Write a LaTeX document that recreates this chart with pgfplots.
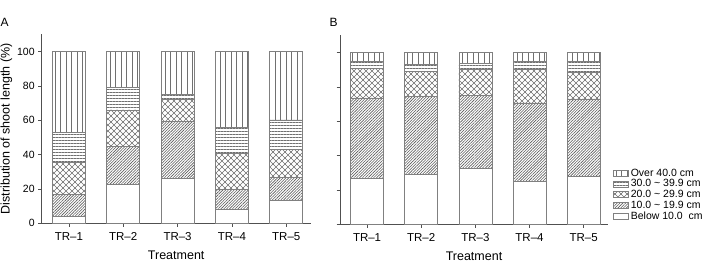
\documentclass[border=0pt]{standalone}
\usepackage{pgfplots}
\pgfplotsset{compat=1.18}
\usepackage{fontspec}
\setmainfont{Liberation Sans}
\usetikzlibrary{patterns,patterns.meta}

\pgfdeclarepatternformonly{xdots}{\pgfpoint{-0.5pt}{-0.5pt}}{\pgfpoint{6.5pt}{6.5pt}}{\pgfpoint{6pt}{6pt}}{
  \pgfsetlinewidth{0.45pt}
  \pgfpathmoveto{\pgfpoint{0pt}{0pt}}\pgfpathlineto{\pgfpoint{6pt}{6pt}}
  \pgfpathmoveto{\pgfpoint{0pt}{6pt}}\pgfpathlineto{\pgfpoint{6pt}{0pt}}
  \pgfusepath{stroke}
  \pgfpathcircle{\pgfpoint{3pt}{3pt}}{0.75pt}
  \pgfusepath{fill}
}

\definecolor{edge}{HTML}{808080}
\definecolor{hatch}{HTML}{707070}
\definecolor{hatchd}{HTML}{5A5A5A}
\definecolor{spine}{HTML}{505050}

\pgfplotstableread{
x below d10 d20 d30 over
1 4.0 13.0 18.5 17.5 47.0
2 22.7 22.1 21.2 13.2 20.8
3 26.2 33.2 12.8 2.9 24.9
4 8.1 11.7 21.0 15.1 44.1
5 13.4 13.4 16.3 17.1 39.8
}\dataA

\pgfplotstableread{
x below d10 d20 d30 over
1 27.0 46.6 17.3 3.9 5.2
2 29.1 45.4 14.5 4.3 6.7
3 32.4 42.5 15.1 3.7 6.3
4 25.1 45.6 19.3 5.0 5.0
5 28.0 45.0 15.6 6.2 5.2
}\dataB

\pgfplotsset{
  panel/.style={
    scale only axis,
    anchor=origin,
    height=189pt,
    xmin=0.5, xmax=5.45,
    ymin=0, ymax=110,
    axis x line*=bottom,
    axis y line*=left,
    axis line style={spine, line width=0.6pt},
    tick style={spine, line width=0.6pt},
    tick align=outside,
    major tick length=3.5pt,
    xtick={1,2,3,4,5},
    xticklabels={TR\textendash1,TR\textendash2,TR\textendash3,TR\textendash4,TR\textendash5},
    ytick={0,20,40,60,80,100},
    ybar stacked,
    bar width=33pt,
    every axis plot/.append style={draw=edge, line width=0.6pt},
    /pgf/number format/assume math mode=true,
    yticklabel style={font=\fontsize{10.5}{12}\selectfont},
    xticklabel style={font=\fontsize{11.5}{12}\selectfont, yshift=-2.5pt},
    xlabel={Treatment},
    xlabel style={font=\fontsize{12.5}{13}\selectfont, yshift=-3pt},
  },
  sBelow/.style={fill=white},
  s10/.style={pattern={Lines[angle=45,distance=2pt,line width=0.6pt]}, pattern color=hatchd},
  s20/.style={pattern=xdots, pattern color=hatch},
  s30/.style={pattern={Lines[angle=0,distance=3pt,line width=0.55pt]}, pattern color=hatch},
  sOver/.style={pattern={Lines[angle=90,distance=5.5pt,line width=0.55pt]}, pattern color=hatch},
}

\begin{document}
\begin{tikzpicture}[x=1pt,y=1pt]
\useasboundingbox (0,0) rectangle (709,263);

\begin{axis}[panel, at={(41.7pt,39.7pt)}, width=269pt,
  ylabel={Distribution of shoot length (\%)},
  ylabel style={font=\fontsize{12.5}{13}\selectfont, yshift=-2pt},
]
\addplot[sBelow] table[x=x,y=below] {\dataA};
\addplot[s10] table[x=x,y=d10] {\dataA};
\addplot[s20] table[x=x,y=d20] {\dataA};
\addplot[s30] table[x=x,y=d30] {\dataA};
\addplot[sOver] table[x=x,y=over] {\dataA};
\end{axis}

\begin{axis}[panel, at={(340pt,38.7pt)}, width=268pt,
  yticklabels={},
  legend cell align=left,
  reverse legend,
  legend style={at={(1.015,0.0)}, anchor=south west, draw=none, fill=none,
    font=\fontsize{10.5}{10}\selectfont, inner sep=1pt,
    row sep=-2pt},
  legend image code/.code={\draw[#1] (0pt,-3pt) rectangle (15pt,3pt);},
]
\addplot[sBelow] table[x=x,y=below] {\dataB};
\addlegendentry{Below 10.0\ \ cm}
\addplot[s10] table[x=x,y=d10] {\dataB};
\addlegendentry{10.0 \textasciitilde\ 19.9 cm}
\addplot[s20] table[x=x,y=d20] {\dataB};
\addlegendentry{20.0 \textasciitilde\ 29.9 cm}
\addplot[s30] table[x=x,y=d30] {\dataB};
\addlegendentry{30.0 \textasciitilde\ 39.9 cm}
\addplot[sOver] table[x=x,y=over] {\dataB};
\addlegendentry{Over 40.0 cm}
\end{axis}

\node[font=\fontsize{12}{12}\selectfont, anchor=west] at (-3,241) {A};
\node[font=\fontsize{12}{12}\selectfont, anchor=west] at (326,241) {B};
\end{tikzpicture}
\end{document}
